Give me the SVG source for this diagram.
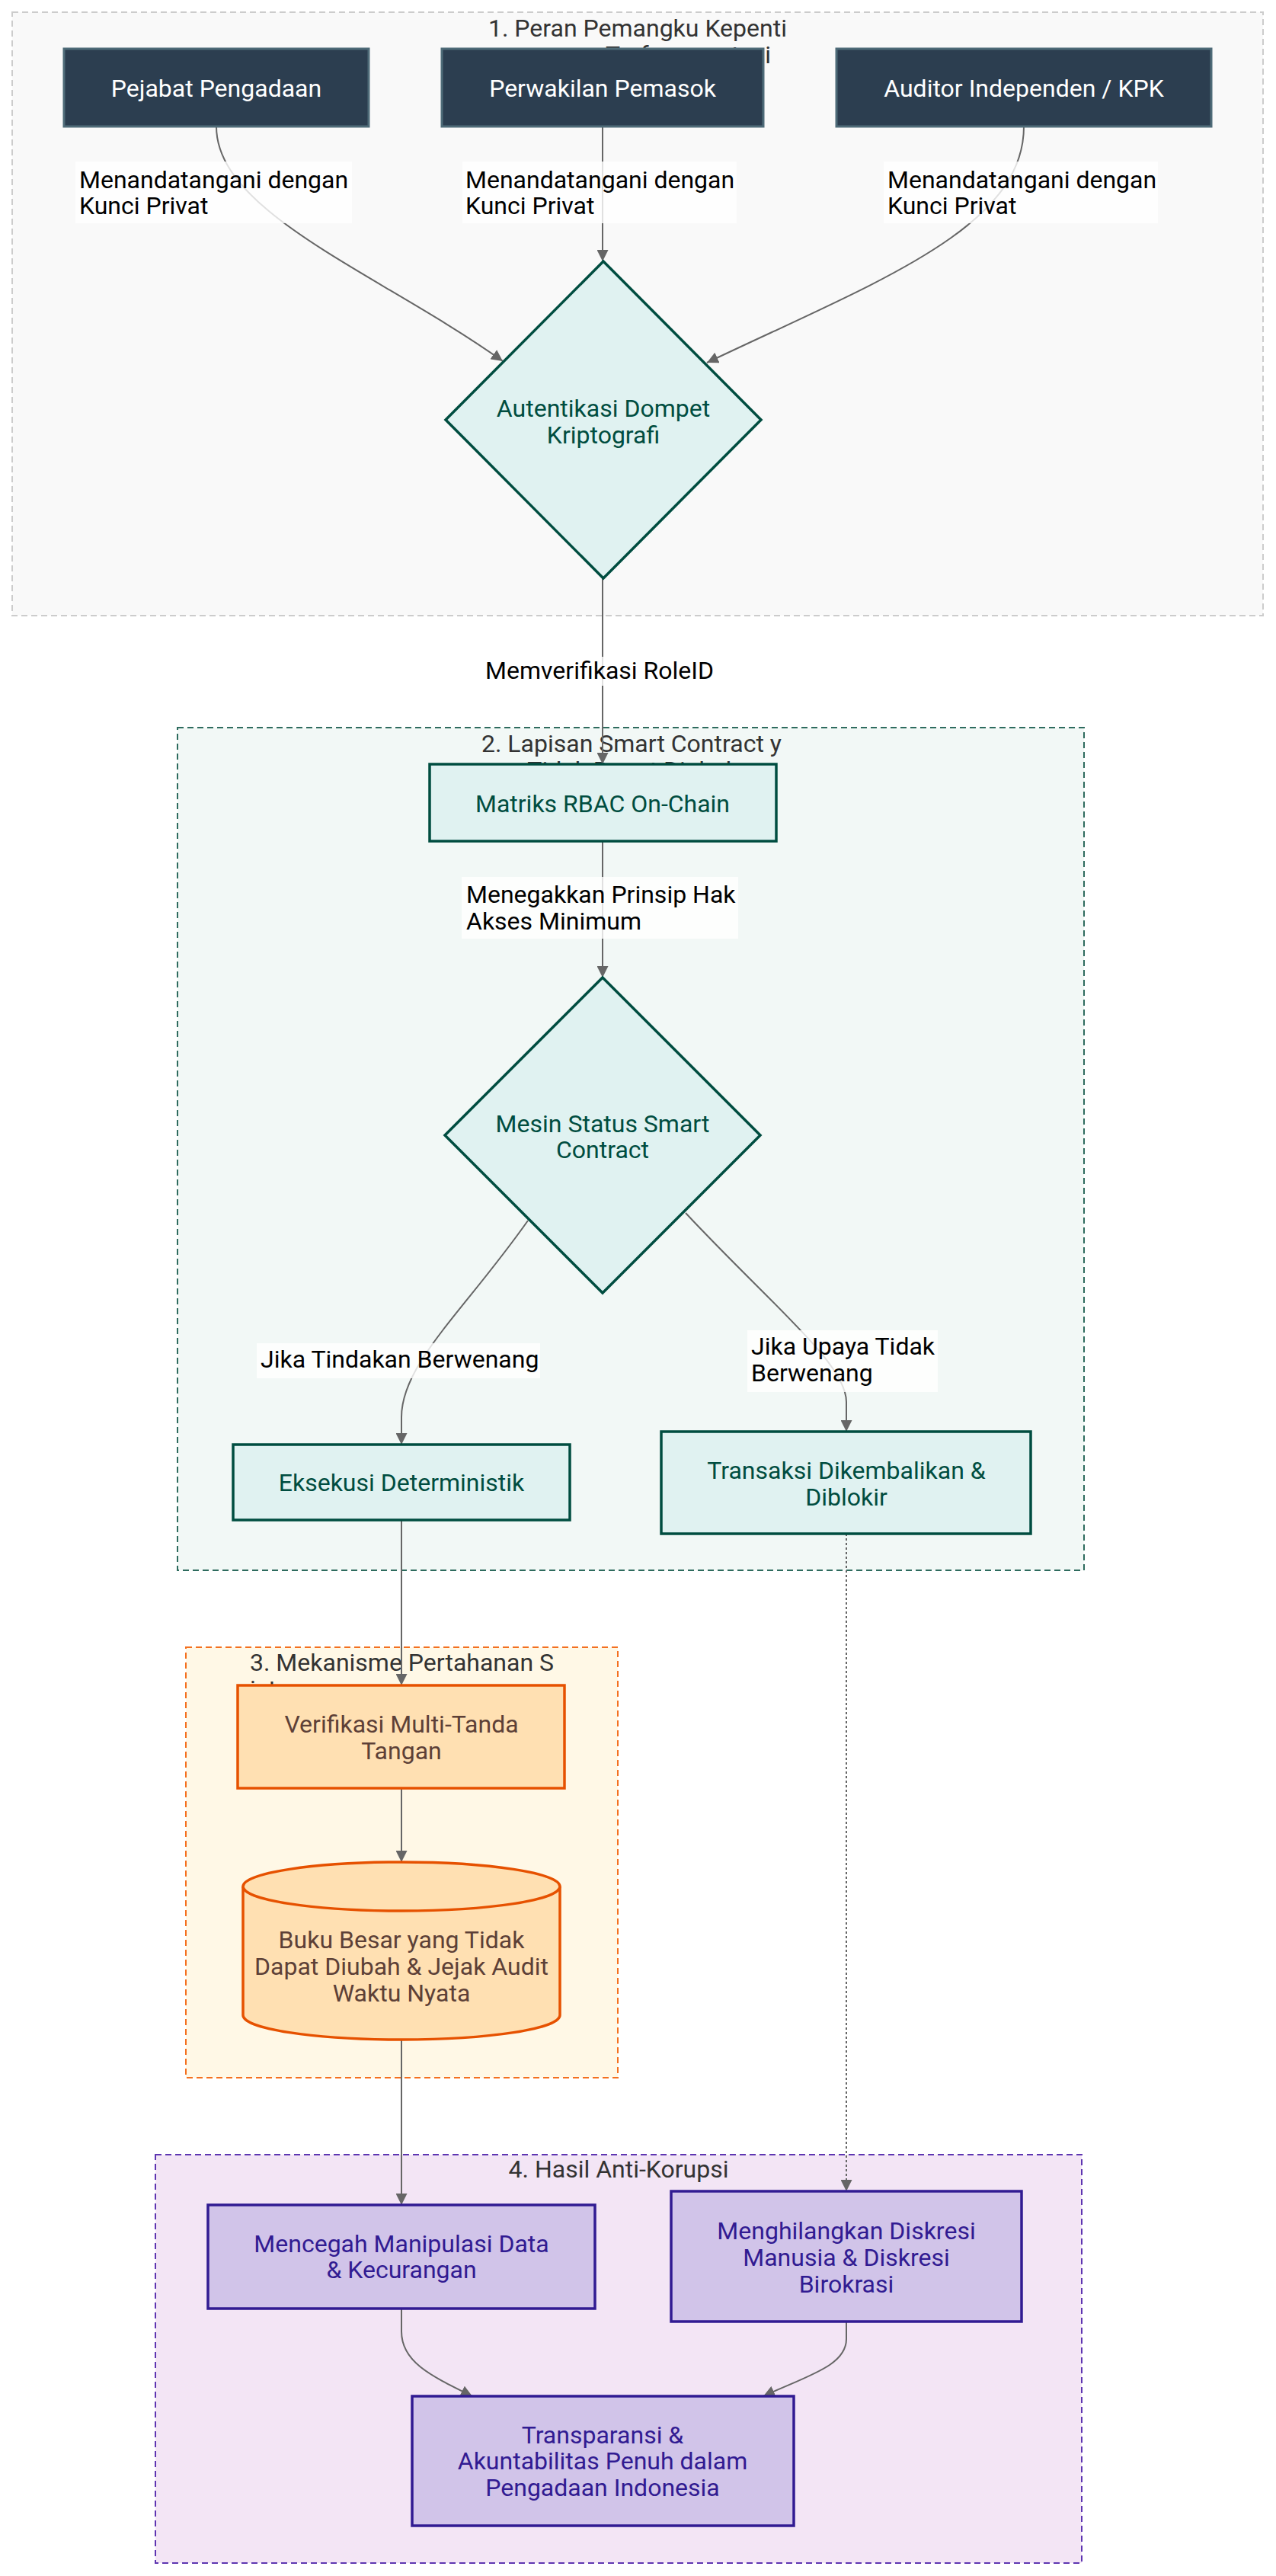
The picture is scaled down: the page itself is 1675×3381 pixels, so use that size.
<svg xmlns="http://www.w3.org/2000/svg" width="1675" height="3381" viewBox="0 0 1675 3381">
<defs>
<marker id="arr" viewBox="0 0 10 10" refX="10" refY="5" markerUnits="userSpaceOnUse" markerWidth="15" markerHeight="15" orient="auto">
<path d="M0,0 L10,5 L0,10 z" fill="#666"/>
</marker>
<style>
text{font-family:Roboto,"Liberation Sans",sans-serif;font-size:32px}
.ct{fill:#333}
.el{fill:#000}
.lb{fill:#fff;fill-opacity:0.8}
.e{fill:none;stroke:#666;stroke-width:2;marker-end:url(#arr)}
.dark rect{fill:#2c3e50;stroke:#4e6b78;stroke-width:3}
.dark text{fill:#fff;text-anchor:middle}
.teal rect,.teal polygon{fill:#e0f2f1;stroke:#004d40;stroke-width:3.5}
.teal text{fill:#004d40;text-anchor:middle}
.org rect,.org path{fill:#ffe0b2;stroke:#e65100;stroke-width:3.5}
.org text{fill:#5d4037;text-anchor:middle}
.pur rect{fill:#d1c4e9;stroke:#311b92;stroke-width:3.5}
.pur text{fill:#311b92;text-anchor:middle}
</style>
</defs>
<rect width="1675" height="3381" fill="#fff"/>

<g id="clusters">
<g id="c1">
<rect x="16" y="16" width="1642" height="792" fill="#f9f9f9" stroke="#ccc" stroke-width="2" stroke-dasharray="8 5"/>
<text class="ct" x="641" y="48">1. Peran Pemangku Kepenti</text>
<text class="ct" x="641" y="83">ngan yang Terfragmentasi</text>
</g>
<g id="c2">
<rect x="233" y="955" width="1190" height="1106" fill="#f2f8f6" stroke="#2e6b5e" stroke-width="2" stroke-dasharray="8 5"/>
<text class="ct" x="632" y="987">2. Lapisan Smart Contract y</text>
<text class="ct" x="632" y="1022">ang Tidak Dapat Diubah</text>
</g>
<g id="c3">
<rect x="244" y="2162" width="567" height="565" fill="#fff8e6" stroke="#f4701f" stroke-width="2" stroke-dasharray="8 5"/>
<text class="ct" x="328" y="2193">3. Mekanisme Pertahanan S</text>
<text class="ct" x="328" y="2228">istem</text>
</g>
<g id="c4">
<rect x="204" y="2828" width="1216" height="536" fill="#f3e5f5" stroke="#5e35b1" stroke-width="2" stroke-dasharray="8 5"/>
<text class="ct" x="812" y="2858" text-anchor="middle">4. Hasil Anti-Korupsi</text>
</g>
</g>

<g id="connectors">
<path class="e" d="M284,166 C284,280 500,360 660,474"/>
<path class="e" d="M791,166 L791,343"/>
<path class="e" d="M1344,166 C1344,300 1150,370 928,476"/>
<path class="e" d="M791,759 L791,1003"/>
<path class="e" d="M791,1104 L791,1283"/>
<path class="e" d="M693,1602 C610,1720 527,1790 527,1860 L527,1896"/>
<path class="e" d="M900,1592 C1015,1715 1111,1790 1111,1840 L1111,1879"/>
<path class="e" d="M527,1995 L527,2212"/>
<path class="e" d="M1111,2013 L1111,2876" stroke-dasharray="3 3"/>
<path class="e" d="M527,2347 L527,2444"/>
<path class="e" d="M527,2677 L527,2894"/>
<path class="e" d="M527,3030 L527,3060 C527,3100 565,3118 620,3145"/>
<path class="e" d="M1111,3047 L1111,3070 C1111,3105 1060,3118 1002,3145"/>
</g>

<g id="edge-labels">
<g><rect class="lb" x="99" y="212" width="363" height="81"/><text class="el" x="104" y="247">Menandatangani dengan</text><text class="el" x="104" y="281">Kunci Privat</text></g>
<g><rect class="lb" x="607" y="212" width="360" height="81"/><text class="el" x="611" y="247">Menandatangani dengan</text><text class="el" x="611" y="281">Kunci Privat</text></g>
<g><rect class="lb" x="1160" y="212" width="360" height="81"/><text class="el" x="1165" y="247">Menandatangani dengan</text><text class="el" x="1165" y="281">Kunci Privat</text></g>
<g><rect class="lb" x="634" y="862" width="306" height="38"/><text class="el" x="787" y="891" text-anchor="middle">Memverifikasi RoleID</text></g>
<g><rect class="lb" x="606" y="1151" width="363" height="81"/><text class="el" x="612" y="1185">Menegakkan Prinsip Hak</text><text class="el" x="612" y="1220">Akses Minimum</text></g>
<g><rect class="lb" x="337" y="1763" width="372" height="46"/><text class="el" x="342" y="1795">Jika Tindakan Berwenang</text></g>
<g><rect class="lb" x="981" y="1746" width="250" height="81"/><text class="el" x="986" y="1778">Jika Upaya Tidak</text><text class="el" x="986" y="1813">Berwenang</text></g>
</g>

<g id="nodes">
<g id="n-pejabat" class="dark"><rect x="84" y="64" width="400" height="102"/><text x="284" y="127">Pejabat Pengadaan</text></g>
<g id="n-pemasok" class="dark"><rect x="580" y="64" width="422" height="102"/><text x="791" y="127">Perwakilan Pemasok</text></g>
<g id="n-auditor" class="dark"><rect x="1098" y="64" width="492" height="102"/><text x="1344" y="127">Auditor Independen / KPK</text></g>
<g id="n-auth" class="teal"><polygon points="792,343 999,551 792,759 585,551"/><text x="792" y="547">Autentikasi Dompet</text><text x="792" y="582">Kriptografi</text></g>
<g id="n-rbac" class="teal"><rect x="564" y="1003" width="455" height="101"/><text x="791" y="1066">Matriks RBAC On-Chain</text></g>
<g id="n-fsm" class="teal"><polygon points="791,1283 998,1490 791,1697 584,1490"/><text x="791" y="1486">Mesin Status Smart</text><text x="791" y="1520">Contract</text></g>
<g id="n-exec" class="teal"><rect x="306" y="1896" width="442" height="99"/><text x="527" y="1957">Eksekusi Deterministik</text></g>
<g id="n-revert" class="teal"><rect x="868" y="1879" width="485" height="134"/><text x="1111" y="1941">Transaksi Dikembalikan &amp;</text><text x="1111" y="1976">Diblokir</text></g>
<g id="n-multisig" class="org"><rect x="312" y="2212" width="429" height="135"/><text x="527" y="2274">Verifikasi Multi-Tanda</text><text x="527" y="2309">Tangan</text></g>
<g id="n-ledger" class="org"><path d="M319,2476 A208,32 0 0 1 735,2476 L735,2645 A208,32 0 0 1 319,2645 Z"/><path d="M319,2476 A208,32 0 0 0 735,2476"/><text x="527" y="2557">Buku Besar yang Tidak</text><text x="527" y="2592">Dapat Diubah &amp; Jejak Audit</text><text x="527" y="2627">Waktu Nyata</text></g>
<g id="n-prevent" class="pur"><rect x="273" y="2894" width="508" height="136"/><text x="527" y="2956">Mencegah Manipulasi Data</text><text x="527" y="2990">&amp; Kecurangan</text></g>
<g id="n-discretion" class="pur"><rect x="881" y="2876" width="460" height="171"/><text x="1111" y="2939">Menghilangkan Diskresi</text><text x="1111" y="2974">Manusia &amp; Diskresi</text><text x="1111" y="3009">Birokrasi</text></g>
<g id="n-transparent" class="pur"><rect x="541" y="3145" width="501" height="170"/><text x="791" y="3207">Transparansi &amp;</text><text x="791" y="3241">Akuntabilitas Penuh dalam</text><text x="791" y="3276">Pengadaan Indonesia</text></g>
</g>
</svg>
